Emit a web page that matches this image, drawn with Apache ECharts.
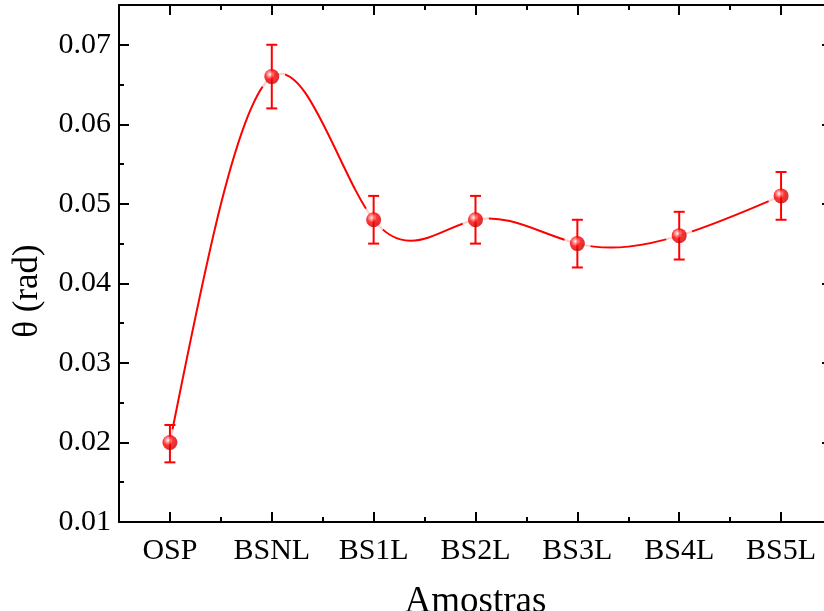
<!DOCTYPE html>
<html>
<head>
<meta charset="utf-8">
<script src="https://cdn.jsdelivr.net/npm/echarts@6/dist/echarts.min.js"></script>
<style>
  html, body { margin: 0; padding: 0; background: #fff; }
  #chart { width: 824px; height: 611px; }
</style>
</head>
<body>
<div id="chart"></div>
<script>
// Samples and measured angle θ (rad) with error-bar limits
const categories = ['OSP', 'BSNL', 'BS1L', 'BS2L', 'BS3L', 'BS4L', 'BS5L'];
const theta      = [0.020, 0.066, 0.048, 0.048, 0.045, 0.046, 0.051];
const errLow     = [0.0175, 0.062, 0.045, 0.045, 0.042, 0.043, 0.048];
const errHigh    = [0.0222, 0.070, 0.051, 0.051, 0.048, 0.049, 0.054];
const yTicks     = [0.01, 0.02, 0.03, 0.04, 0.05, 0.06, 0.07];

const FONT = '"Liberation Serif", "Times New Roman", serif';
const RED = '#ff0000';

const chart = echarts.init(document.getElementById('chart'), null, { renderer: 'canvas' });

const axisLine = { show: true, lineStyle: { color: '#000', width: 2 } };

function catAxis(pos, major, showLabel) {
  return {
    type: 'category',
    data: categories,
    position: pos,
    boundaryGap: true,
    axisLine: major ? axisLine : { show: false },
    axisTick: {
      show: true, inside: true, alignWithLabel: major,
      length: major ? 10 : 5,
      lineStyle: { color: '#000', width: 2 }
    },
    axisLabel: showLabel ? {
      show: true, fontFamily: FONT, fontSize: 30, color: '#000', margin: 14
    } : { show: false },
    splitLine: { show: false },
    name: showLabel ? 'Amostras' : '',
    nameLocation: 'middle',
    nameGap: 62,
    nameTextStyle: { fontFamily: FONT, fontSize: 37, color: '#000' }
  };
}

function valAxis(pos, showLabel) {
  return {
    type: 'value',
    position: pos,
    min: 0.01,
    max: 0.075,
    interval: 0.01,
    axisLine: axisLine,
    axisTick: { show: true, inside: true, length: 10, lineStyle: { color: '#000', width: 2 } },
    minorTick: { show: true, splitNumber: 2, length: 5, lineStyle: { color: '#000', width: 2 } },
    axisLabel: showLabel ? {
      show: true, fontFamily: FONT, fontSize: 30, color: '#000', margin: 8,
      showMaxLabel: false,
      formatter: v => {
        const t = yTicks.find(k => Math.abs(k - v) < 1e-9);
        return t === undefined ? '' : t.toFixed(2);
      }
    } : { show: false },
    splitLine: { show: false }
  };
}

const sphere = {
  type: 'radial', x: 0.38, y: 0.35, r: 0.65,
  colorStops: [
    { offset: 0, color: '#ffffff' },
    { offset: 0.22, color: '#ff8a8a' },
    { offset: 0.5, color: '#ff0000' },
    { offset: 1, color: '#c80000' }
  ]
};

// Natural cubic spline through the marker positions, drawn as Bezier segments
function splinePath(pts) {
  const n = pts.length;
  const h = pts[1][0] - pts[0][0];
  const M = new Array(n).fill(0);
  // tridiagonal solve for second derivatives (natural ends)
  const a = [], b = [], c = [], d = [];
  for (let i = 1; i < n - 1; i++) {
    a.push(h / 6); b.push(2 * h / 3); c.push(h / 6);
    d.push((pts[i + 1][1] - pts[i][1]) / h - (pts[i][1] - pts[i - 1][1]) / h);
  }
  const m = d.length;
  for (let i = 1; i < m; i++) {
    const w = a[i] / b[i - 1];
    b[i] -= w * c[i - 1];
    d[i] -= w * d[i - 1];
  }
  const sol = new Array(m);
  sol[m - 1] = d[m - 1] / b[m - 1];
  for (let i = m - 2; i >= 0; i--) sol[i] = (d[i] - c[i] * sol[i + 1]) / b[i];
  for (let i = 0; i < m; i++) M[i + 1] = sol[i];

  let p = 'M' + pts[0][0] + ' ' + pts[0][1];
  for (let i = 0; i < n - 1; i++) {
    const [x0, y0] = pts[i], [x1, y1] = pts[i + 1];
    const s = (y1 - y0) / h;
    const d0 = s - h * (2 * M[i] + M[i + 1]) / 6;
    const d1 = s + h * (M[i] + 2 * M[i + 1]) / 6;
    p += ' C' + (x0 + h / 3) + ' ' + (y0 + d0 * h / 3) + ' ' +
         (x1 - h / 3) + ' ' + (y1 - d1 * h / 3) + ' ' + x1 + ' ' + y1;
  }
  return p;
}

chart.setOption({
  animation: false,
  backgroundColor: '#fff',
  grid: { left: 119, top: 5, width: 713, height: 517, containLabel: false, outerBoundsMode: 'none' },
  xAxis: [
    catAxis('bottom', true, true),
    catAxis('bottom', false, false),
    catAxis('top', true, false),
    catAxis('top', false, false)
  ],
  yAxis: [
    valAxis('left', true),
    valAxis('right', false)
  ],
  graphic: [{
    type: 'text',
    x: 28, y: 291,
    rotation: Math.PI / 2,
    style: { text: 'θ (rad)', font: '35px ' + FONT, fill: '#000', align: 'center', verticalAlign: 'middle' }
  }],
  series: [
    {
      // spline connector
      type: 'custom',
      xAxisIndex: 0, yAxisIndex: 0,
      data: [[0, theta[0]]],
      renderItem: (params, api) => {
        const pts = theta.map((v, i) => api.coord([i, v]));
        return {
          type: 'path',
          shape: { pathData: splinePath(pts) },
          style: { stroke: RED, lineWidth: 2, fill: null }
        };
      },
      z: 1
    },
    {
      // white halo leaving a gap in the connector round each marker
      type: 'scatter',
      data: theta,
      xAxisIndex: 0, yAxisIndex: 0,
      symbol: 'circle',
      symbolSize: 27,
      itemStyle: { color: '#fff' },
      silent: true,
      z: 2
    },
    {
      // error bars with caps
      type: 'custom',
      xAxisIndex: 0, yAxisIndex: 0,
      data: categories.map((c, i) => [i, errLow[i], errHigh[i]]),
      renderItem: (params, api) => {
        const lo = api.coord([api.value(0), api.value(1)]);
        const hi = api.coord([api.value(0), api.value(2)]);
        const w = 5.5;
        const st = { stroke: RED, lineWidth: 2 };
        return {
          type: 'group',
          children: [
            { type: 'line', shape: { x1: hi[0], y1: hi[1], x2: lo[0], y2: lo[1] }, style: st },
            { type: 'line', shape: { x1: hi[0] - w, y1: hi[1], x2: hi[0] + w, y2: hi[1] }, style: st },
            { type: 'line', shape: { x1: lo[0] - w, y1: lo[1], x2: lo[0] + w, y2: lo[1] }, style: st }
          ]
        };
      },
      z: 3
    },
    {
      type: 'scatter',
      data: theta,
      xAxisIndex: 0, yAxisIndex: 0,
      symbol: 'circle',
      symbolSize: 15,
      itemStyle: { color: sphere },
      z: 4
    }
  ]
});
</script>
</body>
</html>
